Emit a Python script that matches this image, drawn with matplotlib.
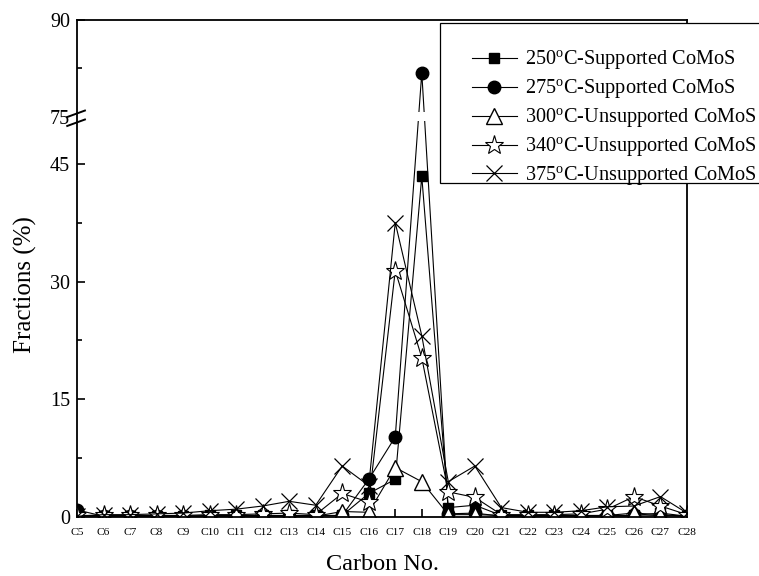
import numpy as np
import matplotlib
matplotlib.use("Agg")
import matplotlib.pyplot as plt
from matplotlib.scale import FuncScale
from matplotlib.patches import Rectangle

plt.rcParams["font.family"] = ["Liberation Serif", "DejaVu Serif"]
plt.rcParams["mathtext.fontset"] = "custom"
plt.rcParams["mathtext.rm"] = "Liberation Serif"

carbons = ["C%d" % n for n in range(5, 29)]

s250 = [0.2, 0.1, 0.1, 0.1, 0.1, 0.2, 0.2, 0.2, 0.2, 0.2, 0.2, 3.0, 4.8, 43.4,
        1.2, 1.5, 0.2, 0.2, 0.2, 0.2, 0.2, 0.2, 0.5, 0.1]
s275 = [0.9, 0.1, 0.1, 0.1, 0.1, 0.1, 0.1, 0.1, 0.1, 0.1, 0.2, 4.8, 10.2, 81.8,
        0.4, 0.5, 0.1, 0.1, 0.1, 0.1, 0.1, 0.1, 0.2, 0.1]
s300 = [0.1, 0.1, 0.1, 0.1, 0.1, 0.1, 0.1, 0.1, 0.1, 0.1, 0.7, 0.6, 6.3, 4.5,
        0.3, 0.3, 0.2, 0.1, 0.1, 0.1, 0.2, 0.5, 0.3, 0.1]
s340 = [0.2, 0.2, 0.2, 0.2, 0.2, 0.3, 0.3, 0.4, 0.5, 0.3, 3.0, 1.9, 31.4, 20.3,
        3.2, 2.5, 0.3, 0.3, 0.3, 0.4, 1.0, 2.6, 1.4, 0.3]
s375 = [0.1, 0.3, 0.3, 0.4, 0.5, 0.8, 1.0, 1.4, 2.0, 1.5, 6.5, 4.0, 37.5, 23.1,
        4.5, 6.5, 1.2, 0.6, 0.6, 0.8, 1.3, 1.4, 2.6, 0.5]

# broken y axis: 0..B shown at full scale, 75..90 compressed above it
B = 51.0
K = 0.822


def fwd(y):
    y = np.asarray(y, dtype=float)
    return np.where(y <= B, y, np.where(y >= 75, B + (y - 75) * K, B))


def inv(d):
    d = np.asarray(d, dtype=float)
    return np.where(d <= B, d, 75 + (d - B) / K)


fig = plt.figure(figsize=(7.59, 5.76), dpi=100)
ax = fig.add_axes([77 / 759, 59 / 576, 610 / 759, 497 / 576])
ax.set_yscale(FuncScale(ax, (fwd, inv)))

x = np.arange(len(carbons))
lw = 0.8
ax.plot(x, s250, "-", color="black", lw=lw, marker="s", ms=7.5, mfc="black",
        label="250$^{\\mathrm{o}}$C-Supported CoMoS")
ax.plot(x, s275, "-", color="black", lw=lw, marker="o", ms=9, mfc="black",
        label="275$^{\\mathrm{o}}$C-Supported CoMoS")
ax.plot(x, s300, "-", color="black", lw=lw, marker="^", ms=12, mfc="white",
        mew=1, label="300$^{\\mathrm{o}}$C-Unsupported CoMoS")
ax.plot(x, s340, "-", color="black", lw=lw, marker="*", ms=14, mfc="white",
        mew=0.8, label="340$^{\\mathrm{o}}$C-Unsupported CoMoS")
ax.plot(x, s375, "-", color="black", lw=lw, marker="x", ms=12, mew=0.9,
        label="375$^{\\mathrm{o}}$C-Unsupported CoMoS")

ax.set_xlim(0, len(carbons) - 1)
ax.set_ylim(0, 90)
ax.set_xticks(x)
ax.set_xticklabels(carbons, fontsize=8.2)
ax.set_yticks([0, 15, 30, 45, 75, 90])
ax.set_yticks([7.5, 22.5, 37.5, 82.5], minor=True)
ax.set_yticklabels(["0", "15", "30", "45", "75", "90"], fontsize=14.5)
ax.tick_params(axis="both", which="major", direction="in", length=6, width=1.2)
ax.tick_params(axis="y", which="minor", direction="in", length=3.5, width=1.2)
ax.tick_params(axis="x", pad=8)
ax.tick_params(axis="y", pad=5)
for s in ax.spines.values():
    s.set_linewidth(1.3)

# gap in the data lines at the break
yb = B / fwd(90)
ax.axhspan(inv(B - 0.6), inv(B + 0.6), color="white", zorder=2.2, lw=0)
# break marks on the left spine
for dy in (-0.012, 0.006):
    ax.plot([-0.016, 0.013], [yb + dy - 0.0065, yb + dy + 0.0065],
            transform=ax.transAxes, color="black", lw=1.4, clip_on=False,
            zorder=6)

ax.set_xlabel("Carbon No.", fontsize=17.5, labelpad=12)
ax.set_ylabel("Fractions (%)", fontsize=18)
ax.yaxis.set_label_coords(-0.065, 0.467)

# legend box: white fill hides the right spine, extra room above the entries
fig.patches.append(Rectangle((440 / 759, 1 - 183 / 576), 340 / 759, 160 / 576,
                             transform=fig.transFigure, facecolor="white",
                             edgecolor="black", lw=0.9, zorder=5))
handles, labels = ax.get_legend_handles_labels()
leg = fig.legend(handles, labels, loc="upper left",
                 bbox_to_anchor=(472 / 759, 1 - 48 / 576),
                 fontsize=14.6, frameon=False, handlelength=2.2,
                 handletextpad=0.4, labelspacing=0.26, borderaxespad=0,
                 borderpad=0)
leg.set_zorder(6)

fig.savefig("out.png", dpi=100)
